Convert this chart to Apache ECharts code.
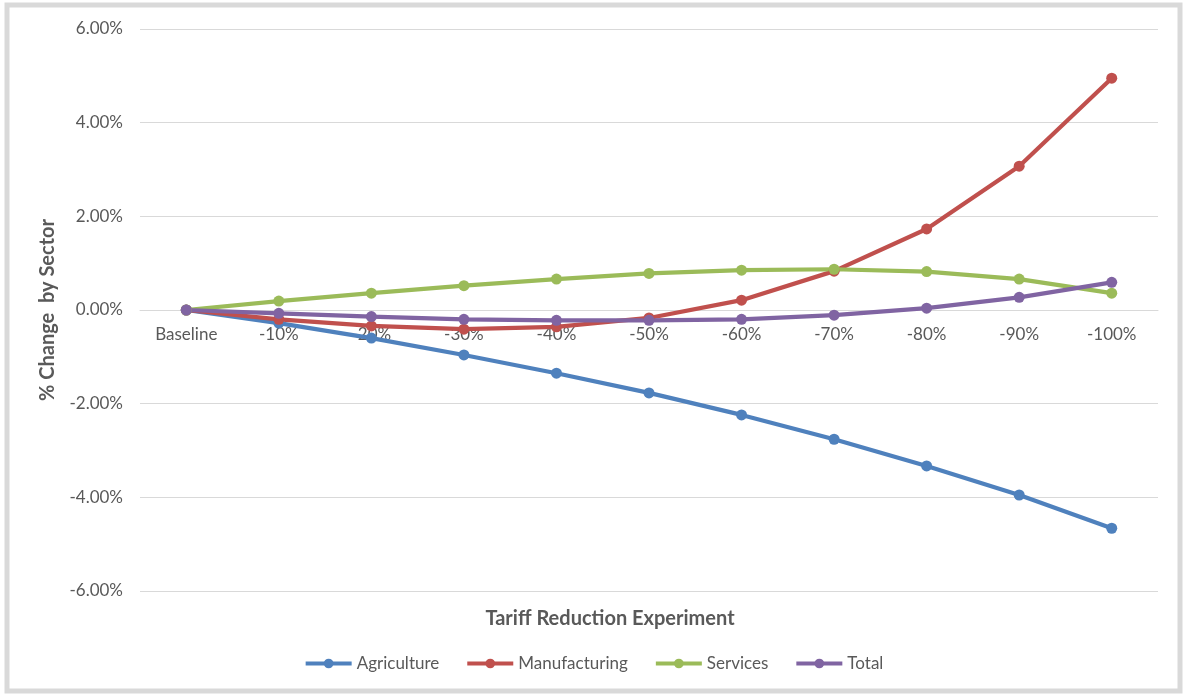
<!DOCTYPE html>
<html>
<head>
<meta charset="utf-8">
<script src="https://cdn.jsdelivr.net/npm/echarts@6/dist/echarts.min.js"></script>
<style>
  html, body { margin: 0; padding: 0; background: #ffffff; }
  #chart { width: 1187px; height: 697px; }
</style>
</head>
<body>
<div id="chart"></div>
<script>
// Tariff reduction scenarios and sector output changes (%)
const categories = ['Baseline', '-10%', '-20%', '-30%', '-40%', '-50%', '-60%', '-70%', '-80%', '-90%', '-100%'];
const agriculture   = [0, -0.28, -0.60, -0.96, -1.35, -1.77, -2.24, -2.76, -3.33, -3.95, -4.66];
const manufacturing = [0, -0.20, -0.34, -0.41, -0.36, -0.17, 0.21, 0.83, 1.73, 3.07, 4.95];
const services      = [0, 0.19, 0.36, 0.52, 0.66, 0.78, 0.85, 0.87, 0.82, 0.66, 0.36];
const total         = [0, -0.07, -0.14, -0.20, -0.22, -0.22, -0.20, -0.11, 0.04, 0.27, 0.59];
const yTicks = [-6, -4, -2, 0, 2, 4, 6];

const FONT = 'Lato, "Open Sans", sans-serif';
const TEXT = '#595959';
const GRID_TOP = 29, GRID_BOTTOM = 106, HEIGHT = 697;

function lineSeries(name, data, color) {
  return {
    name: name,
    type: 'line',
    data: data,
    symbol: 'circle',
    symbolSize: 11,
    lineStyle: { width: 4.2, color: color },
    itemStyle: { color: color },
    emphasis: { disabled: true }
  };
}

// The category axis sits on the zero line of the value axis
const plotH = HEIGHT - GRID_TOP - GRID_BOTTOM;
const yMin = yTicks[0], yMax = yTicks[yTicks.length - 1];
const zeroOffset = -plotH * (0 - yMin) / (yMax - yMin);

const chart = echarts.init(document.getElementById('chart'));
chart.setOption({
  animation: false,
  backgroundColor: '#ffffff',
  grid: { left: 140, right: 29, top: GRID_TOP, bottom: GRID_BOTTOM },
  title: {
    text: 'Tariff Reduction Experiment',
    left: 605,
    top: 604,
    textAlign: 'center',
    textStyle: { fontFamily: FONT, fontSize: 20, fontWeight: 'bold', color: TEXT }
  },
  legend: {
    bottom: 20,
    left: 'center',
    itemWidth: 46,
    itemHeight: 12,
    itemGap: 26,
    lineStyle: { width: 4 },
    textStyle: { fontFamily: FONT, fontSize: 17, color: TEXT },
    data: ['Agriculture', 'Manufacturing', 'Services', 'Total']
  },
  xAxis: {
    type: 'category',
    data: categories,
    boundaryGap: true,
    position: 'bottom',
    offset: zeroOffset,
    axisLine: { onZero: false, lineStyle: { color: '#D9D9D9', width: 1 } },
    axisTick: { show: false },
    axisLabel: { fontFamily: FONT, fontSize: 17, color: TEXT, margin: 16 },
    splitLine: { show: false }
  },
  yAxis: {
    type: 'value',
    min: yMin,
    max: yMax,
    interval: 2,
    name: '% Change  by Sector',
    nameLocation: 'middle',
    nameGap: 82,
    nameRotate: 90,
    nameTextStyle: { fontFamily: FONT, fontSize: 20, fontWeight: 'bold', color: TEXT },
    axisLine: { show: false },
    axisTick: { show: false },
    axisLabel: {
      fontFamily: FONT, fontSize: 17, color: TEXT, margin: 17,
      formatter: v => v.toFixed(2) + '%'
    },
    splitLine: { lineStyle: { color: '#D9D9D9', width: 1 } }
  },
  series: [
    lineSeries('Agriculture', agriculture, '#4F81BD'),
    lineSeries('Manufacturing', manufacturing, '#C0504D'),
    lineSeries('Services', services, '#9BBB59'),
    lineSeries('Total', total, '#8064A2')
  ],
  graphic: [{
    type: 'rect',
    silent: true,
    shape: { x: 7, y: 5, width: 1173, height: 686 },
    style: { fill: 'none', stroke: '#D9D9D9', lineWidth: 5 }
  }]
});
</script>
</body>
</html>
